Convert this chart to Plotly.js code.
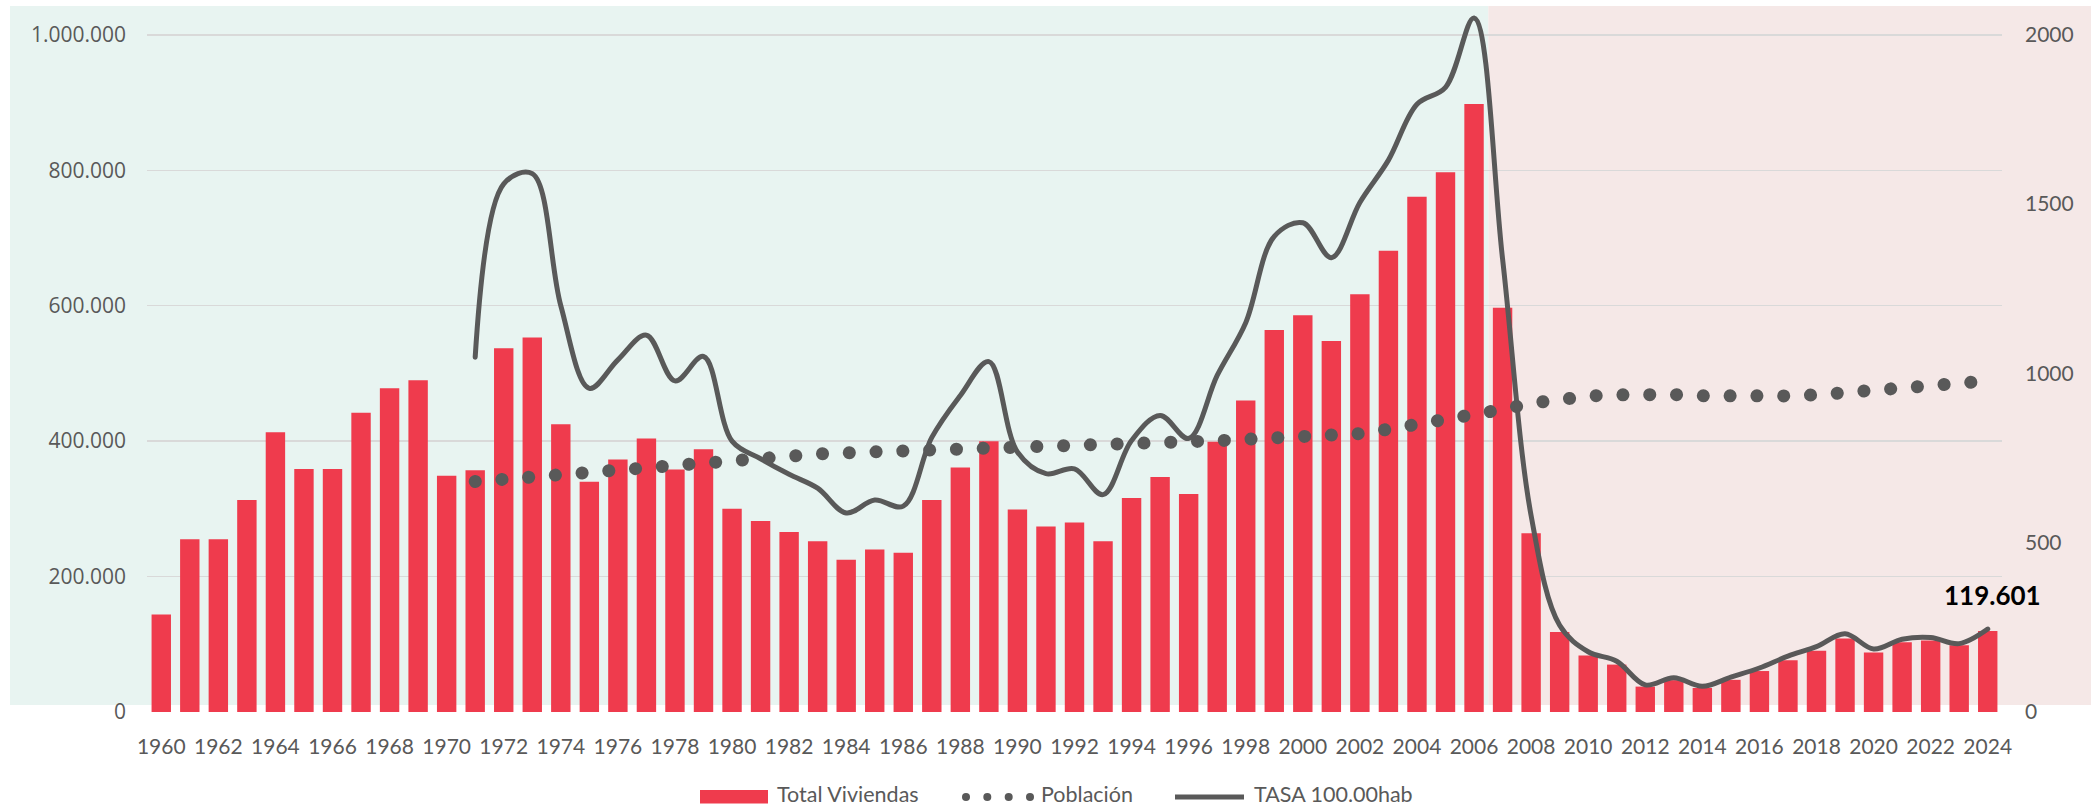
<!DOCTYPE html>
<html>
<head>
<meta charset="utf-8">
<script src="https://cdn.plot.ly/plotly-3.0.1.min.js"></script>
<style>
html, body { margin: 0; padding: 0; background: #ffffff; }
#chart { width: 2091px; height: 809px; }
#chart .js-line { stroke-linecap: round !important; }
</style>
</head>
<body>
<div id="chart"></div>
<script>
// ---------- DATA ----------
const years = [1960,1961,1962,1963,1964,1965,1966,1967,1968,1969,
  1970,1971,1972,1973,1974,1975,1976,1977,1978,1979,
  1980,1981,1982,1983,1984,1985,1986,1987,1988,1989,
  1990,1991,1992,1993,1994,1995,1996,1997,1998,1999,
  2000,2001,2002,2003,2004,2005,2006,2007,2008,2009,
  2010,2011,2012,2013,2014,2015,2016,2017,2018,2019,
  2020,2021,2022,2023,2024];

const totalViviendas = [144000,255000,255000,313000,413000,359000,359000,442000,478000,490000,
  349000,357000,537000,553000,425000,340000,373000,404000,358000,388000,
  300000,282000,266000,252000,225000,240000,235000,313000,361000,400000,
  299000,274000,280000,252000,316000,347000,322000,399000,460000,564000,
  586000,548000,617000,681000,761000,797000,898000,597000,264000,118000,
  83500,70000,37500,47000,35500,47500,60500,76500,90500,108500,
  88000,103000,105500,98500,119601];

// Población (drawn against the left axis)
const poblacion = [null,null,null,null,null,null,null,null,null,null,
  null,340300,344000,347700,351500,355500,359200,363000,366600,370200,
  373600,376200,378900,381100,382800,384000,385100,386100,387100,387700,
  388300,389300,390500,392200,394400,396400,398500,400600,402700,404400,
  406300,408900,411100,417600,424300,432100,439200,446800,456000,463700,
  466600,468400,469900,468800,467000,465900,465800,466800,468300,470900,
  473400,476300,480800,485400,489000];

// TASA 100.00hab (right axis)
const tasa = [null,null,null,null,null,null,null,null,null,null,
  null,1048,1560,1590,1200,956,1040,1113,978,1050,
  800,748,702,661,588,626,608,811,935,1035,
  768,704,718,642,802,876,808,994,1150,1405,
  1445,1342,1505,1630,1795,1845,2050,1338,580,256,
  178,150,80,101,76,103,130,165,193,231,
  186,215,220,202,245];

const xTickVals = [1960,1962,1964,1966,1968,1970,1972,1974,1976,1978,1980,1982,1984,1986,1988,1990,
  1992,1994,1996,1998,2000,2002,2004,2006,2008,2010,2012,2014,2016,2018,2020,2022,2024];
const yLeftTickVals = [0,200000,400000,600000,800000,1000000];
const yLeftTickText = ["0","200.000","400.000","600.000","800.000","1.000.000"];
const yRightTickVals = [0,500,1000,1500,2000];
const yRightTickText = ["0","500","1000","1500","2000"];
const seriesNames = ["Total Viviendas", "Población", "TASA 100.00hab"];
const boomEndYear = 2006;   // teal period ends after this year

// ---------- LAYOUT HELPERS ----------
const W = 2091, H = 809;
const M = { l: 147, r: 89, t: 1, b: 97 };
const PW = W - M.l - M.r, PH = H - M.t - M.b;
const px = x => (x - M.l) / PW;
const py = y => (H - M.b - y) / PH;
const xRange = [years[0] - 0.5, years[years.length - 1] + 0.5];
const xPaper = v => (v - xRange[0]) / (xRange[1] - xRange[0]);

const RED = '#EF3B4D', GREY = '#595959', TXT = '#595959';
const fmt = v => String(Math.round(v)).replace(/\B(?=(\d{3})+(?!\d))/g, '.');

const traces = [
  { type: 'bar', x: years, y: totalViviendas, name: seriesNames[0],
    marker: { color: RED }, yaxis: 'y', hoverinfo: 'x+y' },
  { type: 'scatter', mode: 'lines', x: years, y: poblacion, name: seriesNames[1],
    yaxis: 'y', connectgaps: false,
    line: { color: GREY, width: 13, dash: '0.1px,26.7px' } },
  { type: 'scatter', mode: 'lines', x: years, y: tasa, name: seriesNames[2],
    yaxis: 'y2', connectgaps: false,
    line: { color: GREY, width: 5, shape: 'spline', smoothing: 1 } }
];

const bTeal = xPaper(boomEndYear + 0.5);
const legY = 797;
const shapes = [
  { type: 'rect', xref: 'paper', yref: 'paper', layer: 'below',
    x0: px(10), x1: bTeal, y0: py(705), y1: py(6),
    fillcolor: '#E8F4F1', line: { width: 0 } },
  { type: 'rect', xref: 'paper', yref: 'paper', layer: 'below',
    x0: bTeal, x1: px(2091), y0: py(705), y1: py(6),
    fillcolor: '#F5E8E7', line: { width: 0 } },
  // legend swatches
  { type: 'rect', xref: 'paper', yref: 'paper',
    x0: px(700), x1: px(768), y0: py(803.5), y1: py(790),
    fillcolor: RED, line: { width: 0 } },
  { type: 'line', xref: 'paper', yref: 'paper',
    x0: px(1175), x1: px(1244), y0: py(legY), y1: py(legY),
    line: { color: GREY, width: 5 } }
];
[966, 987.3, 1008.7, 1030].forEach(c => {
  shapes.push({ type: 'circle', xref: 'paper', yref: 'paper',
    x0: px(c - 4), x1: px(c + 4), y0: py(legY + 4), y1: py(legY - 4),
    fillcolor: GREY, line: { width: 0 } });
});

const legFont = { family: 'Lato, sans-serif', size: 21.5, color: TXT };
const legBase = { xref: 'paper', yref: 'paper', y: py(808), xanchor: 'left', yanchor: 'bottom',
  showarrow: false, borderpad: 0, font: legFont };
const annotations = [
  Object.assign({}, legBase, { x: px(776), text: seriesNames[0] }),
  Object.assign({}, legBase, { x: px(1040), text: seriesNames[1] }),
  Object.assign({}, legBase, { x: px(1253), text: seriesNames[2] }),
  { xref: 'x', yref: 'y', x: years[years.length - 1], y: totalViviendas[totalViviendas.length - 1],
    xanchor: 'center', yanchor: 'middle', xshift: 5, yshift: 36,
    text: '<b>' + fmt(totalViviendas[totalViviendas.length - 1]) + '</b>', showarrow: false,
    font: { family: 'Lato, sans-serif', size: 26, color: '#000000' } }
];

const layout = {
  width: W, height: H,
  margin: M,
  paper_bgcolor: '#ffffff', plot_bgcolor: 'rgba(0,0,0,0)',
  showlegend: false,
  hovermode: false,
  bargap: 0.32,
  xaxis: {
    type: 'linear', range: xRange, tickmode: 'array', tickvals: xTickVals,
    ticktext: xTickVals.map(String),
    showgrid: false, zeroline: false, showline: false, ticks: '',
    tickfont: { family: 'Lato, sans-serif', size: 21, color: TXT },
    ticklabelstandoff: 20, automargin: false
  },
  yaxis: {
    range: [0, 1050000], tickmode: 'array', tickvals: yLeftTickVals, ticktext: yLeftTickText,
    showgrid: true, gridcolor: '#D9D9D9', gridwidth: 1.3, zeroline: false, showline: false,
    ticks: '', tickfont: { family: '"Open Sans", sans-serif', size: 21, color: TXT },
    ticklabelstandoff: 20, automargin: false
  },
  yaxis2: {
    overlaying: 'y', side: 'right', range: [0, 2100], tickmode: 'array',
    tickvals: yRightTickVals, ticktext: yRightTickText,
    showgrid: false, zeroline: false, showline: false, ticks: '',
    tickfont: { family: 'Lato, sans-serif', size: 21, color: TXT },
    ticklabelstandoff: 22, automargin: false
  },
  shapes: shapes,
  annotations: annotations
};

Plotly.newPlot('chart', traces, layout, { staticPlot: true, displayModeBar: false });
</script>
</body>
</html>
